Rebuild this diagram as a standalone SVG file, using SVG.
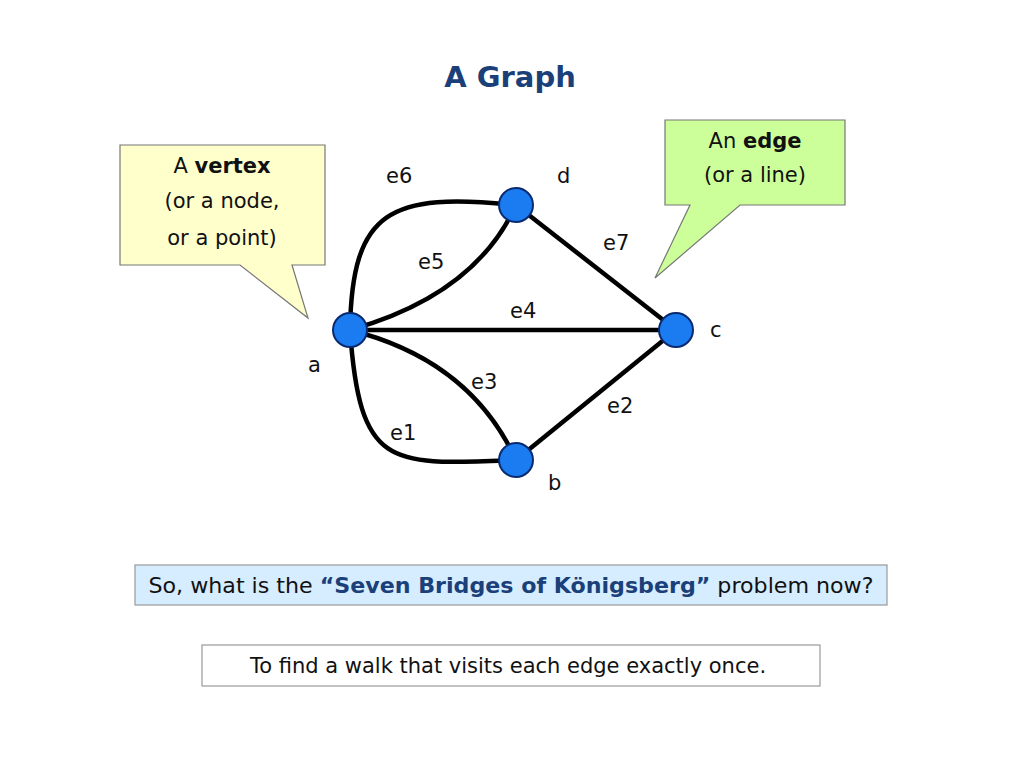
<svg xmlns="http://www.w3.org/2000/svg" width="1024" height="768" viewBox="0 0 1024 768">
<style>
text{font-family:"DejaVu Sans","Liberation Sans",sans-serif;fill:#111}
.lbl{font-size:21px}
.cl{font-size:21px;text-anchor:middle}
.edge{fill:none;stroke:#000;stroke-width:4.5}
.node{fill:#1a7cf0;stroke:#0a2a70;stroke-width:2}
</style>
<rect width="1024" height="768" fill="#fff"/>
<text x="510" y="87" text-anchor="middle" style="font-size:29px;font-weight:bold;fill:#1b3f78">A Graph</text>
<g id="callout-vertex">
<path d="M120,145 H325 V265 H292 L308,318 L240,265 H120 Z" fill="#ffffcc" stroke="#777" stroke-width="1.2"/>
<text class="cl" x="222" y="173">A <tspan font-weight="bold">vertex</tspan></text>
<text class="cl" x="222" y="208">(or a node,</text>
<text class="cl" x="222" y="245">or a point)</text>
</g>
<g id="callout-edge">
<path d="M665,120 H845 V205 H740 L655,278 L690,205 H665 Z" fill="#ccff99" stroke="#777" stroke-width="1.2"/>
<text class="cl" x="755" y="148">An <tspan font-weight="bold">edge</tspan></text>
<text class="cl" x="755" y="182">(or a line)</text>
</g>
<g id="connectors">
<line class="edge" x1="350" y1="330" x2="676" y2="330"/>
<line class="edge" x1="516" y1="205" x2="676" y2="330"/>
<line class="edge" x1="516" y1="460" x2="676" y2="330"/>
<path class="edge" d="M350,330 Q475,295 516,205"/>
<path class="edge" d="M350,330 C352,210 390,192 516,205"/>
<path class="edge" d="M350,330 Q470,360 516,460"/>
<path class="edge" d="M350,330 C360,470 390,465 516,460"/>
<text class="lbl" x="386" y="183">e6</text>
<text class="lbl" x="603" y="250">e7</text>
<text class="lbl" x="418" y="269">e5</text>
<text class="lbl" x="510" y="318">e4</text>
<text class="lbl" x="471" y="389">e3</text>
<text class="lbl" x="607" y="413">e2</text>
<text class="lbl" x="390" y="440">e1</text>
</g>
<g id="node-a"><circle class="node" cx="350" cy="330" r="17"/><text class="lbl" x="308" y="372">a</text></g>
<g id="node-d"><circle class="node" cx="516" cy="205" r="17"/><text class="lbl" x="557" y="183">d</text></g>
<g id="node-c"><circle class="node" cx="676" cy="330" r="17"/><text class="lbl" x="710" y="337">c</text></g>
<g id="node-b"><circle class="node" cx="516" cy="460" r="17"/><text class="lbl" x="548" y="490">b</text></g>
<g id="question">
<rect x="135" y="565" width="752" height="40" fill="#d6ecff" stroke="#999" stroke-width="1.2"/>
<text x="511" y="593" text-anchor="middle" textLength="725" lengthAdjust="spacingAndGlyphs" style="font-size:21px">So, what is the <tspan font-weight="bold" fill="#1b3f78">“Seven Bridges of Königsberg”</tspan> problem now?</text>
</g>
<g id="answer">
<rect x="202" y="645" width="618" height="41" fill="#fff" stroke="#999" stroke-width="1.2"/>
<text x="508" y="673" text-anchor="middle" style="font-size:21px">To find a walk that visits each edge exactly once.</text>
</g>
</svg>
